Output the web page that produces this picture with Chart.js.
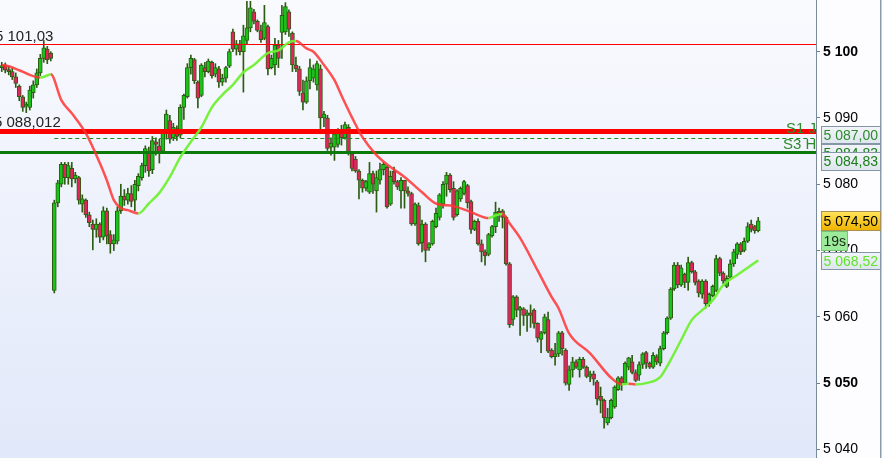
<!DOCTYPE html>
<html lang="en">
<head>
<meta charset="UTF-8">
<title>Intraday candles</title>
<script src="https://cdn.jsdelivr.net/npm/chart.js@4.4.0/dist/chart.umd.min.js"></script>
<style>
  html, body { margin: 0; padding: 0; background: #fff; }
  #wrap { position: relative; width: 882px; height: 458px; }
</style>
</head>
<body>
<div id="wrap"><canvas id="chart"></canvas></div>
<script>
// --- candles, oldest first (one value per bar) ---
const opens = [
  5097.6, 5098.0, 5097.2, 5097.0, 5096.2, 5094.8, 5093.2, 5091.8, 5091.6, 5093.8,
  5095.0, 5096.8, 5099.0, 5100.4, 5099.8, 5064.0, 5077.2, 5080.0, 5083.0, 5081.0,
  5082.4, 5080.8, 5081.0, 5077.0, 5077.6, 5075.4, 5074.0, 5073.2, 5074.0, 5072.0,
  5076.0, 5072.4, 5071.0, 5071.4, 5076.0, 5078.2, 5077.6, 5078.6, 5077.6, 5079.8,
  5081.0, 5082.8, 5085.0, 5082.2, 5086.4, 5085.8, 5085.0, 5087.8, 5089.6, 5087.0,
  5088.4, 5087.4, 5091.6, 5093.2, 5097.6, 5098.8, 5095.4, 5093.4, 5097.6, 5097.0,
  5098.4, 5096.6, 5097.4, 5095.4, 5096.0, 5097.8, 5103.0, 5100.4, 5101.2, 5100.0,
  5101.7, 5103.6, 5106.0, 5104.6, 5103.2, 5102.0, 5103.8, 5097.6, 5098.0, 5101.0,
  5102.9, 5103.0, 5106.0, 5102.8, 5098.0, 5097.4, 5093.8, 5092.4, 5095.6, 5096.0,
  5095.0, 5097.4, 5090.0, 5090.0, 5085.6, 5085.6, 5086.0, 5088.2, 5087.0, 5088.6,
  5084.6, 5083.8, 5082.0, 5080.6, 5079.4, 5078.8, 5081.6, 5079.0, 5080.6, 5082.2,
  5082.6, 5077.0, 5082.0, 5080.4, 5079.0, 5080.6, 5079.0, 5078.6, 5074.0, 5076.8,
  5071.2, 5074.0, 5070.4, 5071.0, 5073.6, 5075.0, 5077.0, 5080.0, 5081.4, 5079.4,
  5075.4, 5077.8, 5078.6, 5079.8, 5077.4, 5073.2, 5074.4, 5071.0, 5069.8, 5069.4,
  5072.2, 5073.6, 5075.8, 5076.0, 5075.0, 5068.0, 5059.6, 5063.0, 5061.0, 5061.2,
  5060.2, 5060.6, 5061.0, 5059.0, 5056.6, 5057.6, 5059.6, 5055.0, 5054.0, 5054.4,
  5057.6, 5055.0, 5049.8, 5052.0, 5053.2, 5052.0, 5053.6, 5052.4, 5051.0, 5051.4,
  5050.2, 5048.0, 5047.4, 5044.0, 5044.8, 5046.4, 5049.0, 5050.8, 5050.0, 5052.4,
  5053.2, 5051.6, 5051.2, 5052.8, 5054.6, 5053.0, 5052.4, 5054.0, 5053.0, 5055.2,
  5057.6, 5059.8, 5064.2, 5067.8, 5064.8, 5066.4, 5065.2, 5068.2, 5066.8, 5065.4,
  5063.4, 5065.4, 5062.0, 5063.2, 5064.0, 5068.8, 5066.6, 5064.6, 5066.0, 5068.0,
  5069.4, 5071.0, 5070.0, 5071.4, 5074.0, 5073.6, 5073.0
];
const highs = [
  5098.4, 5098.3, 5097.8, 5097.5, 5096.8, 5095.0, 5093.4, 5092.4, 5094.8, 5095.6,
  5097.4, 5099.6, 5101.7, 5100.8, 5100.0, 5077.6, 5080.6, 5083.3, 5083.3, 5083.3,
  5083.3, 5081.8, 5081.2, 5078.4, 5077.8, 5075.8, 5074.6, 5074.8, 5074.2, 5076.6,
  5076.4, 5073.0, 5072.4, 5076.6, 5080.0, 5079.2, 5079.4, 5079.8, 5080.6, 5081.6,
  5083.2, 5085.8, 5085.6, 5087.2, 5087.0, 5086.8, 5088.2, 5091.2, 5090.4, 5089.2,
  5088.8, 5092.0, 5093.6, 5098.2, 5099.5, 5099.0, 5095.6, 5098.2, 5098.4, 5098.9,
  5098.6, 5098.2, 5097.8, 5096.6, 5097.8, 5100.4, 5103.4, 5101.7, 5101.7, 5104.0,
  5107.6, 5107.6, 5106.4, 5104.8, 5104.0, 5107.0, 5104.0, 5099.5, 5102.0, 5101.7,
  5107.0, 5107.4, 5106.3, 5103.0, 5099.2, 5097.8, 5095.7, 5096.2, 5098.9, 5098.0,
  5098.6, 5098.0, 5091.0, 5090.4, 5087.0, 5088.0, 5088.4, 5088.9, 5089.4, 5089.0,
  5084.8, 5084.2, 5082.2, 5080.8, 5080.6, 5083.3, 5082.0, 5082.0, 5083.2, 5083.3,
  5082.8, 5082.0, 5082.6, 5080.6, 5081.0, 5080.6, 5079.6, 5078.8, 5077.2, 5077.2,
  5074.6, 5074.2, 5071.2, 5074.6, 5076.4, 5078.6, 5080.4, 5081.8, 5081.6, 5080.4,
  5079.2, 5079.6, 5080.6, 5080.0, 5077.6, 5074.6, 5074.8, 5071.6, 5070.1, 5072.6,
  5073.8, 5077.3, 5076.4, 5076.2, 5075.2, 5068.2, 5063.2, 5063.2, 5061.6, 5061.4,
  5061.0, 5061.8, 5061.2, 5059.1, 5057.8, 5060.4, 5060.7, 5055.2, 5056.0, 5057.8,
  5057.8, 5055.2, 5052.6, 5053.9, 5053.5, 5053.9, 5053.9, 5052.6, 5051.8, 5051.8,
  5050.4, 5049.4, 5047.6, 5046.2, 5047.6, 5049.6, 5051.0, 5051.0, 5053.2, 5053.9,
  5054.2, 5052.0, 5053.2, 5054.6, 5054.8, 5053.2, 5054.6, 5054.3, 5055.6, 5057.8,
  5060.0, 5064.4, 5068.2, 5068.2, 5067.8, 5066.6, 5069.0, 5068.4, 5067.0, 5065.6,
  5065.6, 5065.6, 5063.6, 5064.8, 5069.3, 5069.0, 5066.8, 5066.2, 5068.6, 5070.2,
  5071.2, 5071.2, 5071.9, 5074.2, 5074.6, 5073.8, 5075.0
];
const lows = [
  5097.0, 5096.8, 5096.5, 5095.8, 5094.6, 5092.6, 5091.0, 5090.8, 5091.2, 5093.0,
  5094.6, 5096.4, 5098.4, 5098.2, 5098.6, 5063.6, 5076.6, 5079.6, 5080.0, 5080.0,
  5079.6, 5080.2, 5077.0, 5075.8, 5075.0, 5073.6, 5070.1, 5072.0, 5071.2, 5071.6,
  5071.0, 5069.6, 5070.0, 5071.0, 5075.6, 5076.8, 5077.0, 5076.6, 5076.0, 5079.0,
  5080.6, 5081.8, 5081.2, 5081.6, 5084.4, 5083.2, 5084.6, 5086.8, 5086.2, 5086.6,
  5086.6, 5087.0, 5089.8, 5093.0, 5096.6, 5095.2, 5091.5, 5093.2, 5096.2, 5096.8,
  5096.0, 5096.2, 5094.6, 5094.9, 5095.4, 5097.6, 5100.0, 5099.5, 5099.5, 5093.9,
  5101.2, 5103.0, 5104.2, 5103.0, 5101.4, 5101.8, 5096.5, 5097.4, 5096.5, 5097.6,
  5099.0, 5102.6, 5102.3, 5097.0, 5097.0, 5093.4, 5091.2, 5092.2, 5094.4, 5095.4,
  5094.2, 5088.2, 5088.7, 5085.1, 5084.4, 5083.6, 5085.6, 5085.9, 5086.8, 5084.4,
  5082.0, 5081.8, 5077.8, 5078.8, 5079.0, 5078.6, 5078.6, 5075.8, 5080.0, 5081.4,
  5076.4, 5076.8, 5080.0, 5079.2, 5076.4, 5076.4, 5078.2, 5073.8, 5073.8, 5070.8,
  5069.8, 5068.3, 5070.0, 5070.8, 5073.4, 5074.6, 5076.4, 5078.2, 5078.8, 5074.6,
  5075.2, 5077.4, 5078.4, 5076.4, 5072.6, 5073.0, 5070.8, 5068.3, 5067.8, 5069.2,
  5072.0, 5072.7, 5074.4, 5073.4, 5067.8, 5058.4, 5058.7, 5060.0, 5057.2, 5058.7,
  5057.8, 5058.4, 5058.3, 5056.2, 5054.6, 5057.4, 5054.6, 5053.8, 5052.7, 5054.0,
  5054.2, 5049.7, 5048.9, 5050.9, 5052.2, 5050.9, 5052.2, 5050.8, 5050.2, 5049.7,
  5046.7, 5045.5, 5043.2, 5043.7, 5044.6, 5046.2, 5048.9, 5048.9, 5049.8, 5052.0,
  5051.4, 5050.2, 5050.4, 5052.2, 5052.2, 5052.2, 5052.2, 5052.8, 5052.6, 5055.0,
  5057.4, 5059.6, 5064.0, 5064.4, 5064.6, 5064.4, 5064.0, 5066.6, 5064.8, 5063.0,
  5062.8, 5061.3, 5061.6, 5063.0, 5063.8, 5066.2, 5065.0, 5064.4, 5065.8, 5067.6,
  5068.8, 5069.4, 5069.8, 5071.2, 5072.8, 5072.6, 5072.8
];
const closes = [
  5097.8, 5097.2, 5097.0, 5096.2, 5095.2, 5093.2, 5091.6, 5092.0, 5094.2, 5095.0,
  5096.8, 5099.0, 5100.6, 5098.8, 5099.0, 5077.2, 5080.2, 5083.0, 5081.0, 5082.8,
  5080.8, 5081.4, 5077.6, 5077.8, 5075.4, 5074.2, 5073.2, 5074.0, 5072.0, 5076.0,
  5072.2, 5071.0, 5071.6, 5076.0, 5078.2, 5077.6, 5078.6, 5077.4, 5080.0, 5081.2,
  5082.8, 5085.4, 5082.0, 5086.6, 5086.0, 5084.8, 5087.8, 5090.6, 5086.8, 5088.6,
  5087.2, 5091.6, 5093.4, 5097.6, 5099.0, 5095.6, 5093.0, 5098.0, 5097.0, 5098.6,
  5096.4, 5097.6, 5095.4, 5096.0, 5097.6, 5100.0, 5100.4, 5101.2, 5100.0, 5102.4,
  5103.6, 5106.6, 5104.6, 5103.2, 5101.8, 5104.4, 5097.4, 5099.0, 5101.0, 5099.0,
  5105.5, 5106.8, 5103.4, 5098.0, 5097.4, 5094.0, 5092.4, 5095.6, 5097.6, 5097.4,
  5098.2, 5090.0, 5090.6, 5085.4, 5086.2, 5087.6, 5088.2, 5087.0, 5089.0, 5084.6,
  5082.4, 5082.0, 5080.6, 5079.4, 5080.4, 5081.6, 5080.0, 5081.0, 5082.2, 5083.0,
  5076.6, 5081.2, 5080.4, 5079.6, 5080.6, 5079.0, 5078.6, 5074.0, 5077.0, 5071.0,
  5074.0, 5070.0, 5071.0, 5074.4, 5075.6, 5078.4, 5080.0, 5081.4, 5079.2, 5075.0,
  5079.0, 5079.4, 5080.4, 5077.2, 5073.2, 5074.4, 5071.0, 5069.8, 5069.2, 5072.4,
  5073.6, 5075.8, 5075.6, 5075.0, 5068.0, 5058.8, 5063.0, 5061.0, 5061.4, 5060.2,
  5060.6, 5060.2, 5059.0, 5056.8, 5057.6, 5060.0, 5054.8, 5054.0, 5054.4, 5057.6,
  5055.2, 5050.0, 5052.0, 5053.2, 5052.4, 5053.6, 5052.4, 5051.0, 5051.4, 5050.6,
  5047.6, 5047.4, 5044.8, 5044.8, 5047.4, 5049.4, 5050.8, 5050.0, 5053.0, 5053.8,
  5051.6, 5050.4, 5052.8, 5054.4, 5053.0, 5052.4, 5054.2, 5053.2, 5055.2, 5057.6,
  5059.8, 5064.2, 5067.8, 5064.8, 5067.4, 5065.2, 5068.2, 5066.8, 5065.2, 5063.6,
  5065.4, 5062.0, 5063.4, 5064.6, 5068.8, 5066.6, 5065.4, 5065.8, 5068.0, 5069.8,
  5071.0, 5069.8, 5071.4, 5073.6, 5073.2, 5073.0, 5074.5
];

// --- moving average, read at selected bars ---
const maIndex = [
  0, 2, 5, 8, 11, 13, 14, 17, 20, 24, 28, 30, 32, 34, 36, 39, 42, 45, 48, 51,
  54, 57, 60, 63, 66, 69, 72, 76, 79, 82, 84, 87, 89, 92, 95, 97, 100, 103, 107, 111,
  115, 120, 124, 129, 134, 139, 141, 143, 145, 148, 153, 157, 159, 162, 168, 174, 177, 179, 181, 184,
  188, 191, 194, 197, 200, 203, 206, 210, 216
];
const maValue = [
  5098.0, 5097.8, 5097.2, 5096.5, 5096.1, 5096.4, 5096.6, 5092.7, 5090.7, 5087.7,
  5083.2, 5080.6, 5077.6, 5076.4, 5076.1, 5075.6, 5077.1, 5078.7, 5081.1, 5084.1,
  5086.4, 5088.6, 5091.6, 5093.5, 5095.0, 5096.9, 5098.0, 5099.8, 5100.2, 5101.4,
  5101.6, 5100.5, 5100.0, 5098.0, 5095.7, 5093.4, 5090.1, 5087.1, 5084.4, 5082.6,
  5081.1, 5078.8, 5077.1, 5076.7, 5075.8, 5074.9, 5075.3, 5075.5, 5074.1, 5071.9,
  5067.0, 5063.0, 5061.3, 5057.5, 5054.5, 5050.8, 5049.8, 5049.9, 5049.8, 5050.0,
  5050.9, 5053.5, 5056.5, 5059.5, 5061.0, 5062.5, 5064.8, 5066.3, 5068.52
];

// --- horizontal levels and right-hand tags ---
const levelHigh = 5101.03;
const levelPivot = 5088.012;
const levelS1 = 5087.00;
const levelS3 = 5084.83;
const lastPrice = 5074.50;
const maLast = 5068.52;
const countdown = '19s';
const sessionStart = 15;   // first bar of the second session

const slotCount = 233;     // bars plus empty room on the right
const yMin = 5038.7, yMax = 5107.8;

const FONT = '"Liberation Sans", Arial, sans-serif';
const UP = '#18c418', DOWN = '#e3245c', EDGE = '#2c5b12';
const MA_UP = 'rgba(112, 240, 52, 0.95)', MA_DOWN = 'rgba(255, 52, 52, 0.85)';

function groupThousands(s) { return s.replace(/\B(?=(\d{3})+(?!\d))/g, ' '); }
function fmtTick(v) { return groupThousands(String(Math.round(v))); }
function fmtPrice(v, d) {
  const [a, b] = v.toFixed(d).split('.');
  return groupThousands(a) + ',' + b;
}

const labels = Array.from({length: slotCount}, (_, i) => i);

const backdrop = {
  id: 'backdrop',
  beforeDraw(chart) {
    const {ctx, chartArea: a, width, height} = chart;
    ctx.save();
    ctx.fillStyle = '#fdfdff';
    ctx.fillRect(0, 0, width, height);
    const g = ctx.createLinearGradient(0, a.top, 0, a.bottom);
    g.addColorStop(0, '#f9fafe');
    g.addColorStop(1, '#e1e8f9');
    ctx.fillStyle = g;
    ctx.fillRect(a.left, a.top, a.right - a.left, a.bottom - a.top);
    ctx.fillStyle = '#8d9cab';
    ctx.fillRect(width - 2, 0, 1.5, height);
    ctx.restore();
  }
};

// levels go over the candles but under the moving average
const levels = {
  id: 'levels',
  beforeDatasetDraw(chart, args) {
    if (args.meta.type !== 'line') return;
    const {ctx, chartArea: a, scales} = chart;
    const y = scales.y;
    const band = (v, color, w, x0) => {
      const top = Math.round(y.getPixelForValue(v) - w / 2);
      ctx.fillStyle = color;
      ctx.fillRect(x0, top, a.right - x0, w);
    };
    ctx.save();
    ctx.beginPath();
    ctx.rect(a.left, a.top, a.right - a.left, a.bottom - a.top);
    ctx.clip();
    band(levelHigh, '#ff0000', 1, a.left);
    const yS1 = Math.round(y.getPixelForValue(levelS1)) + 0.5;
    ctx.beginPath();
    ctx.setLineDash([4, 3]);
    ctx.strokeStyle = '#1f8a1f';
    ctx.lineWidth = 1;
    ctx.moveTo(scales.x.getPixelForValue(sessionStart), yS1);
    ctx.lineTo(a.right, yS1);
    ctx.stroke();
    ctx.setLineDash([]);
    band(levelS3, '#0b7a0b', 3, a.left);
    band(levelPivot, '#ff0000', 5, a.left);

    ctx.font = '15px ' + FONT;
    ctx.textBaseline = 'alphabetic';
    ctx.textAlign = 'left';
    ctx.fillStyle = '#222';
    ctx.fillText(fmtPrice(levelHigh, 2), -5, y.getPixelForValue(levelHigh) - 3.5);
    ctx.fillText(fmtPrice(levelPivot, 3), -6, y.getPixelForValue(levelPivot) - 4);
    ctx.fillStyle = '#2e8b2e';
    ctx.fillText('S1 J', 786, y.getPixelForValue(levelPivot) + 1.5);
    ctx.fillText('S3 H', 783, y.getPixelForValue(levelS3) - 3.5);
    ctx.restore();
  }
};

const tags = {
  id: 'tags',
  afterDraw(chart) {
    const {ctx, scales} = chart;
    const y = scales.y;
    const box = (text, cy, x, w, h, fill, border, color) => {
      const top = Math.round(cy - h / 2) + 0.5;
      ctx.fillStyle = fill;
      ctx.fillRect(x, top, w, h);
      ctx.strokeStyle = border;
      ctx.lineWidth = 1;
      ctx.strokeRect(x, top, w, h);
      ctx.fillStyle = color;
      ctx.fillText(text, x + 2, top + h / 2 + 1);
    };
    const pale = (cy) => {
      const g = ctx.createLinearGradient(0, cy - 9, 0, cy + 9);
      g.addColorStop(0, '#f3f6fa');
      g.addColorStop(1, '#dde5ee');
      return g;
    };
    ctx.save();
    ctx.font = '14px ' + FONT;
    ctx.textBaseline = 'middle';
    ctx.textAlign = 'left';
    const yS1 = y.getPixelForValue(levelS1) - 3;
    const yS3 = y.getPixelForValue(levelS3);
    box(fmtPrice(levelS1, 2), yS1, 821.5, 59, 17, pale(yS1), '#8597a7', '#2e8b2e');
    box(fmtPrice(levelS3, 2), yS3, 821.5, 59, 17, pale(yS3), '#8597a7', '#1b7d1b');
    box(fmtPrice(levelS3, 2), yS3 + 9, 821.5, 59, 18, pale(yS3 + 9), '#8597a7', '#1b7d1b');
    const yLast = y.getPixelForValue(lastPrice);
    const gy = ctx.createLinearGradient(0, yLast - 9, 0, yLast + 9);
    gy.addColorStop(0, '#ffe45a');
    gy.addColorStop(1, '#f0b400');
    box(fmtPrice(lastPrice, 2), yLast, 821.5, 59, 19, gy, '#a89058', '#000');
    box(countdown, yLast + 19.5, 821.5, 26, 19, '#9beb9b', '#74c474', '#1a2a1a');
    const yMa = y.getPixelForValue(maLast);
    box(fmtPrice(maLast, 2), yMa, 821.5, 59, 17, pale(yMa), '#8597a7', '#62e22a');
    ctx.restore();
  }
};

new Chart(document.getElementById('chart'), {
  type: 'bar',
  data: {
    labels: labels,
    datasets: [
      {
        type: 'line',
        data: maIndex.map((k, j) => ({x: k, y: maValue[j]})),
        borderColor: MA_UP,
        borderWidth: 2.5,
        pointRadius: 0,
        cubicInterpolationMode: 'monotone',
        segment: {
          borderColor: c => c.p1.parsed.y >= c.p0.parsed.y ? MA_UP : MA_DOWN
        },
        order: 0
      },
      {
        data: opens.map((o, i) => [o, closes[i]]),
        backgroundColor: opens.map((o, i) => closes[i] >= o ? UP : DOWN),
        borderColor: EDGE,
        borderWidth: 1,
        borderSkipped: false,
        barThickness: 4,
        minBarLength: 2,
        grouped: false,
        order: 1
      },
      {
        data: lows.map((l, i) => [l, highs[i]]),
        backgroundColor: EDGE,
        borderWidth: 0,
        barThickness: 1,
        grouped: false,
        order: 2
      }
    ]
  },
  options: {
    responsive: true,
    maintainAspectRatio: false,
    animation: false,
    events: [],
    layout: { padding: 0 },
    plugins: { legend: { display: false }, tooltip: { enabled: false } },
    scales: {
      x: { display: false, offset: true, grid: { display: false } },
      y: {
        position: 'right',
        min: yMin,
        max: yMax,
        ticks: {
          stepSize: 10,
          includeBounds: false,
          color: '#000',
          padding: 3,
          font: c => ({ family: FONT, size: 14, weight: (c.tick && c.tick.value % 50 === 0) ? 'bold' : 'normal' }),
          callback: v => fmtTick(v)
        },
        grid: { drawOnChartArea: false, drawTicks: true, tickLength: 4, tickColor: '#6d8090' },
        border: { display: true, color: '#7a8c9c', width: 1 },
        afterFit: s => { s.width = 66; s.paddingTop = 0; s.paddingBottom = 0; }
      }
    }
  },
  plugins: [backdrop, levels, tags]
});
</script>
</body>
</html>
